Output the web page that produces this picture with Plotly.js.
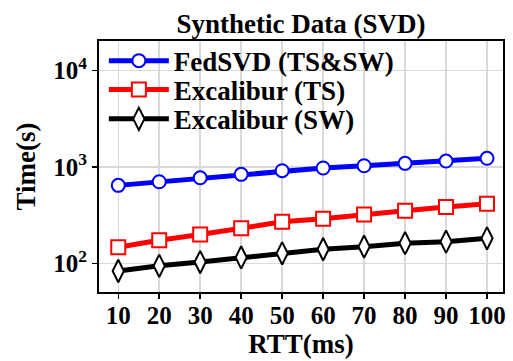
<!DOCTYPE html>
<html>
<head>
<meta charset="utf-8">
<script src="https://cdn.plot.ly/plotly-3.0.1.min.js"></script>
<style>html,body{margin:0;padding:0;background:#fff;}#chart{width:513px;height:361px;}</style>
</head>
<body>
<div id="chart"></div>
<script>
const rtt = [10, 20, 30, 40, 50, 60, 70, 80, 90, 100];
const fedsvd = [646, 704, 774, 840, 916, 977, 1031, 1092, 1154, 1231];
const excaliburTS = [148, 175, 200, 232, 271, 291, 323, 353, 385, 417];
const excaliburSW = [84, 95, 104, 116, 128, 141, 150, 163, 169, 183];
const yTickVals = [100, 1000, 10000];
const yTickText = ['<b>10</b><sup><b>2</b></sup>', '<b>10</b><sup><b>3</b></sup>', '<b>10</b><sup><b>4</b></sup>'];
const xTickVals = rtt;

const FONT = '"Liberation Serif", serif';

const traces = [
  {x: rtt, y: fedsvd, name: '<b>FedSVD (TS&SW)</b>', mode: 'lines+markers', legend: 'legend',
   line: {color: '#0000ff', width: 5},
   marker: {symbol: 'circle', size: 13, color: '#ffffff', line: {color: '#0000ff', width: 2}}},
  {x: rtt, y: excaliburTS, name: '<b>Excalibur (TS)</b>', mode: 'lines+markers', legend: 'legend2',
   line: {color: '#ff0000', width: 5},
   marker: {symbol: 'square', size: 14, color: '#ffffff', line: {color: '#ff0000', width: 2}}},
  {x: rtt, y: excaliburSW, name: '<b>Excalibur (SW)</b>', mode: 'lines+markers', legend: 'legend3',
   line: {color: '#000000', width: 5},
   marker: {symbol: 'diamond-tall', size: 16, color: '#ffffff', line: {color: '#000000', width: 2}}}
];

function leg(y) {
  return {x: 0.012, y: y, xanchor: 'left', yanchor: 'middle', bgcolor: 'rgba(0,0,0,0)',
          borderwidth: 0, itemwidth: 60,
          font: {family: FONT, size: 27, color: '#000'}};
}

const layout = {
  width: 513, height: 361,
  margin: {l: 99, r: 10, t: 41, b: 69, pad: 0},
  paper_bgcolor: '#ffffff', plot_bgcolor: '#ffffff',
  font: {family: FONT, color: '#000'},
  title: {text: '<b>Synthetic Data (SVD)</b>', x: 0.5, xanchor: 'center', xref: 'paper', y: 0.935, yanchor: 'middle',
          font: {family: FONT, size: 27, color: '#000'}},
  showlegend: true,
  legend: leg(0.92),
  legend2: leg(0.805),
  legend3: leg(0.688),
  xaxis: {
    range: [5.3, 103.9], tickvals: xTickVals, ticktext: xTickVals.map(v => '<b>' + v + '</b>'),
    showline: true, mirror: true, linecolor: '#000', linewidth: 2,
    ticks: 'outside', ticklen: 5, tickwidth: 1.5, tickcolor: '#000', ticklabelstandoff: -5,
    showgrid: true, gridcolor: '#d9d9d9', gridwidth: 1.5, zeroline: false,
    tickfont: {family: FONT, size: 25, color: '#000'},
    title: {text: '<b>RTT(ms)</b>', standoff: 6, font: {family: FONT, size: 27, color: '#000'}}
  },
  yaxis: {
    type: 'log', range: [1.707, 4.304], tickvals: yTickVals, ticktext: yTickText,
    showline: true, mirror: true, linecolor: '#000', linewidth: 2,
    ticks: 'outside', ticklen: 5, tickwidth: 1.5, tickcolor: '#000',
    showgrid: true, gridcolor: '#d9d9d9', gridwidth: 1.5, zeroline: false,
    tickfont: {family: FONT, size: 25, color: '#000'},
    title: {text: '<b>Time(s)</b>', standoff: 10, font: {family: FONT, size: 27, color: '#000'}}
  }
};

Plotly.newPlot('chart', traces, layout, {displayModeBar: false, staticPlot: true});
</script>
</body>
</html>
